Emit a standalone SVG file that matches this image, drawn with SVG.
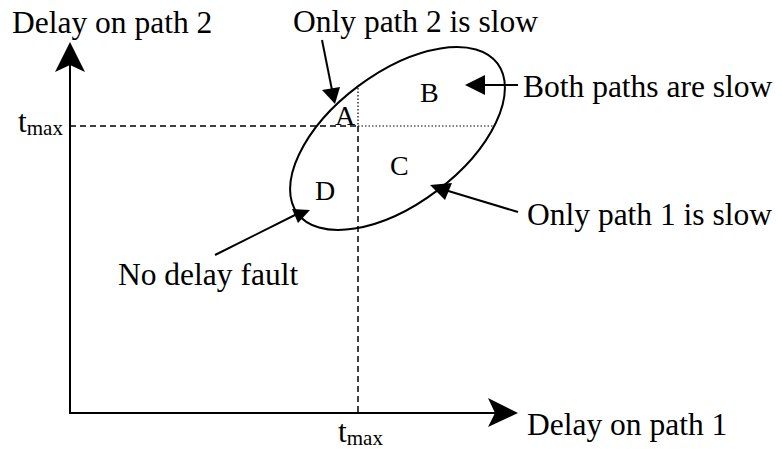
<svg xmlns="http://www.w3.org/2000/svg" width="782" height="449" viewBox="0 0 782 449">
<style>
text{font-family:"Liberation Serif","Times New Roman",serif;fill:#000}
.lbl{font-size:31.5px}
.let{font-size:28px}
.sub{font-size:21px}
.ax{stroke:#000;stroke-width:2;fill:none}
.ln{stroke:#000;stroke-width:2;fill:none}
.dash{stroke:#000;stroke-width:1.5;stroke-dasharray:6 4;fill:none}
.dot{stroke:#000;stroke-width:1.2;stroke-dasharray:1.5 2;fill:none}
.hd{fill:#000;stroke:none}
</style>
<rect width="782" height="449" fill="#fff"/>
<g id="connectors">
<line class="ax" x1="70" y1="413" x2="70" y2="60"/>
<polygon class="hd" points="70,42 85,72 70,65 55,72"/>
<line class="ax" x1="69" y1="413" x2="500" y2="413"/>
<polygon class="hd" points="518,413 488,427 495,413 488,398"/>
<line class="dash" x1="70" y1="126" x2="358" y2="126"/>
<line class="dash" x1="358" y1="126" x2="358" y2="413"/>
<line class="dot" x1="358" y1="88" x2="358" y2="126"/>
<line class="dot" x1="358" y1="126" x2="494" y2="126"/>
<line class="ln" x1="322" y1="40" x2="332" y2="90"/>
<polygon class="hd" points="335,104 322,90 340,87"/>
<line class="ln" x1="518" y1="85" x2="480" y2="85"/>
<polygon class="hd" points="465,85 485,75 485,95"/>
<line class="ln" x1="518" y1="212" x2="445" y2="190"/>
<polygon class="hd" points="430,185 452,183 445,200"/>
<line class="ln" x1="215" y1="255" x2="299" y2="213"/>
<polygon class="hd" points="292,209 310,210 298,223"/>
</g>
<g id="ellipse">
<ellipse class="ln" cx="397.5" cy="138.5" rx="125" ry="65.5" transform="rotate(-36.9 397.5 138.5)"/>
</g>
<g id="region-a"><text class="let" x="335" y="125">A</text></g>
<g id="region-b"><text class="let" x="420" y="102">B</text></g>
<g id="region-c"><text class="let" x="390" y="175">C</text></g>
<g id="region-d"><text class="let" x="315" y="200">D</text></g>
<g id="label-y"><text class="lbl" x="12" y="33">Delay on path 2</text></g>
<g id="label-x"><text class="lbl" x="527" y="435">Delay on path 1</text></g>
<g id="label-only2"><text class="lbl" x="293" y="32">Only path 2 is slow</text></g>
<g id="label-both"><text class="lbl" x="523" y="97">Both paths are slow</text></g>
<g id="label-only1"><text class="lbl" x="527" y="225">Only path 1 is slow</text></g>
<g id="label-none"><text class="lbl" x="118" y="285">No delay fault</text></g>
<g id="tmax-y"><text class="lbl" x="18" y="132">t<tspan class="sub" dy="3">max</tspan></text></g>
<g id="tmax-x"><text class="lbl" x="338" y="442">t<tspan class="sub" dy="3">max</tspan></text></g>
</svg>
